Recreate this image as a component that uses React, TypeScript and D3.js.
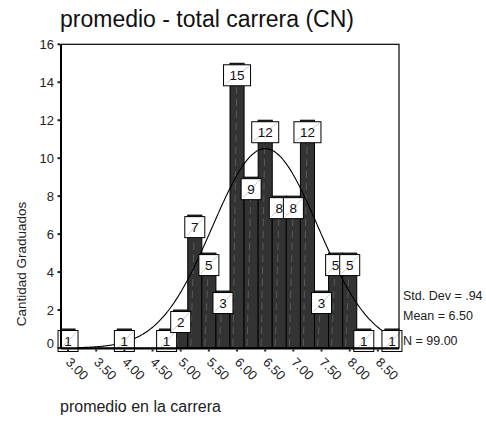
import React from "react";
import * as d3 from "d3";

const binCenters = [3.0, 4.0, 4.75, 5.0, 5.25, 5.5, 5.75, 6.0, 6.25, 6.5, 6.75, 7.0, 7.25, 7.5, 7.75, 8.0, 8.25, 8.75];
const counts = [1, 1, 1, 2, 7, 5, 3, 15, 9, 12, 8, 8, 12, 3, 5, 5, 1, 1];
const xTicks = [3.0, 3.5, 4.0, 4.5, 5.0, 5.5, 6.0, 6.5, 7.0, 7.5, 8.0, 8.5];
const yTicks = [0, 2, 4, 6, 8, 10, 12, 14, 16];
const statMean = 6.5;
const statSd = 0.94;
const statN = 99;
const binWidth = 0.25;
const statLabels = ["Std. Dev = .94", "Mean = 6.50", "N = 99.00"];
const title = "promedio - total carrera (CN)";
const xTitle = "promedio en la carrera";
const yTitle = "Cantidad Graduados";

const FONT = "'Liberation Sans', Arial, Helvetica, sans-serif";

export default function App() {
  const W = 486, H = 421;
  const left = 61, right = 399, top = 44.3, bottom = 348;
  const x = d3.scaleLinear().domain([2.875, 8.875]).range([left, right]);
  const y = d3.scaleLinear().domain([0, 16]).range([bottom, top]);

  const peak = (statN * binWidth) / (statSd * Math.sqrt(2 * Math.PI));
  const curvePts: [number, number][] = d3
    .range(2.875, 8.876, 0.02)
    .map((v) => [v, peak * Math.exp(-0.5 * Math.pow((v - statMean) / statSd, 2))]);
  const line = d3
    .line<[number, number]>()
    .x((d) => x(d[0]))
    .y((d) => y(d[1]))
    .curve(d3.curveMonotoneX);

  const bars = binCenters.map((c, i) => ({ c, n: counts[i] }));

  return (
    <svg
      width={W}
      height={H}
      style={{ position: "absolute", left: 0, top: 0, background: "#fff" }}
      fontFamily={FONT}
    >
      <rect x={0} y={0} width={W} height={H} fill="#fff" />
      <text x={60} y={27} fontSize={23} fill="#111">
        {title}
      </text>

      {/* bars */}
      {bars.map((b, i) => {
        const x0 = x(b.c - binWidth / 2);
        const x1 = x(b.c + binWidth / 2);
        const yt = y(b.n);
        return (
          <g key={"b" + i}>
            <rect x={x0} y={yt} width={x1 - x0} height={bottom - yt} fill="#333333" stroke="#000" strokeWidth={1} />
            <line
              x1={x0 + 3}
              y1={bottom - 2}
              x2={x0 + 7}
              y2={yt + 2}
              stroke="#6a6a6a"
              strokeWidth={0.7}
              strokeDasharray="7,5"
            />
          </g>
        );
      })}

      {/* normal curve */}
      <path d={line(curvePts) || ""} fill="none" stroke="#000" strokeWidth={1.1} />

      {/* value boxes */}
      {bars.map((b, i) => {
        const w = b.n >= 10 ? 27 : 20;
        const h = 21;
        const cx = x(b.c);
        const bt = y(b.n) + 1.5;
        return (
          <g key={"l" + i}>
            <rect x={cx - w / 2} y={bt} width={w} height={h} fill="#fff" stroke="#000" strokeWidth={1} />
            <line x1={cx - w / 2 + 2} y1={bt + h - 2} x2={cx + w / 2 - 1} y2={bt + 1} stroke="#b5b5b5" strokeWidth={0.7} />
            <text x={cx} y={bt + 15.5} fontSize={13.5} textAnchor="middle" fill="#111">
              {b.n}
            </text>
          </g>
        );
      })}

      {/* frame */}
      <rect x={left} y={top} width={right - left} height={bottom - top} fill="none" stroke="#000" strokeWidth={1.2} />
      <line x1={left} y1={top} x2={left} y2={bottom + 1} stroke="#000" strokeWidth={2} />
      <line x1={left} y1={bottom + 0.5} x2={right} y2={bottom + 0.5} stroke="#000" strokeWidth={1.8} />

      {/* y ticks */}
      {yTicks.map((t) => (
        <g key={"yt" + t}>
          <rect x={left - 3.5} y={y(t) - 1} width={2.5} height={2} fill="#222" />
          <text
            x={54}
            y={y(t) + 4.5 - (t === 0 ? 5 : 0)}
            fontSize={13}
            textAnchor="end"
            fill="#222"
          >
            {t}
          </text>
        </g>
      ))}

      {/* x ticks */}
      {xTicks.map((t) => (
        <g key={"xt" + t}>
          <rect x={x(t) - 1} y={bottom + 1.5} width={2} height={2} fill="#222" />
          <text
            transform={`translate(${x(t) - 3},${bottom + 15}) rotate(45)`}
            fontSize={13}
            fill="#222"
          >
            {t.toFixed(2)}
          </text>
        </g>
      ))}

      {/* axis titles */}
      <text transform={`translate(26,264) rotate(-90)`} fontSize={13.5} textAnchor="middle" fill="#222">
        {yTitle}
      </text>
      <text x={60} y={412} fontSize={16} fill="#222">
        {xTitle}
      </text>

      {/* stats */}
      {statLabels.map((s, i) => (
        <text key={s} x={403} y={[299.5, 319.5, 344.5][i]} fontSize={12.5} fill="#222">
          {s}
        </text>
      ))}
    </svg>
  );
}
